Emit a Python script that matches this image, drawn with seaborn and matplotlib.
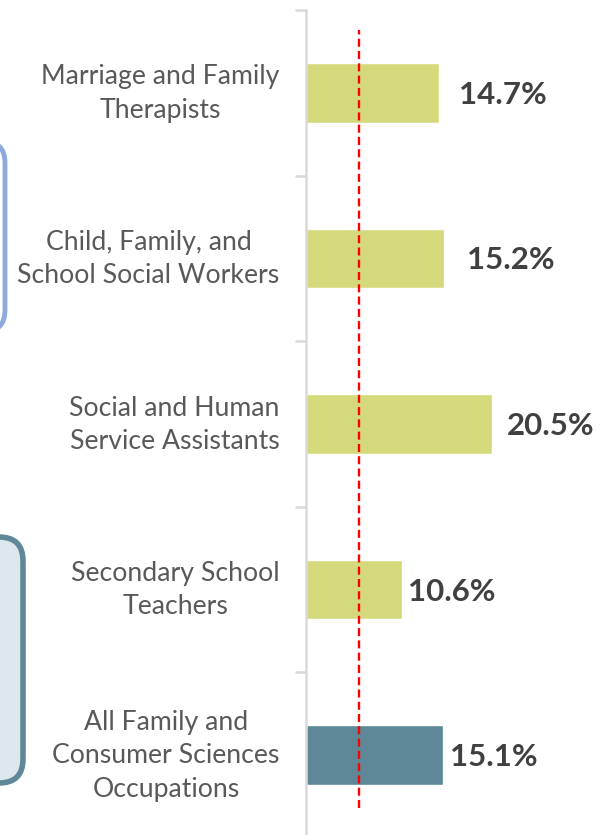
import matplotlib
matplotlib.use('Agg')
import matplotlib.pyplot as plt
import matplotlib.transforms as mtransforms
from matplotlib.patches import FancyBboxPatch
import seaborn as sns
import pandas as pd

# data
categories = ["Marriage and Family\nTherapists",
              "Child, Family, and\nSchool Social Workers",
              "Social and Human\nService Assistants",
              "Secondary School\nTeachers",
              "All Family and\nConsumer Sciences\nOccupations"]
values = [14.7, 15.2, 20.5, 10.6, 15.1]
value_labels = ["14.7%", "15.2%", "20.5%", "10.6%", "15.1%"]
reference_value = 5.8  # red dashed line

bar_colors = ["#d4da7c", "#d4da7c", "#d4da7c", "#d4da7c", "#5e8798"]
label_gap_px = [20, 23, 15, 6, 7]

df = pd.DataFrame({"category": categories, "value": values})

sns.set_style("white")
plt.rcParams['font.family'] = ['Lato', 'DejaVu Sans']

fig = plt.figure(figsize=(6.12, 8.35), dpi=100)

# background layer for the cropped boxes on the left edge
bg = fig.add_axes([0, 0, 1, 1], zorder=0)
bg.set_xlim(0, 612)
bg.set_ylim(835, 0)
bg.axis('off')
bg.add_patch(FancyBboxPatch((-60, 141), 65, 191, boxstyle="round,pad=0,rounding_size=22",
                            facecolor="white", edgecolor="#8eaadc", linewidth=3.5))
bg.add_patch(FancyBboxPatch((-60, 537), 83, 246, boxstyle="round,pad=0,rounding_size=24",
                            facecolor="#dde8ee", edgecolor="#5e8798", linewidth=4))

# main axes: x=306px is zero, about 9.06 px per percent
ax = fig.add_axes([306 / 612, (835 - 838) / 835, 306 / 612, 828 / 835], zorder=1)
ax.patch.set_alpha(0)
sns.barplot(data=df, x="value", y="category", hue="category", palette=bar_colors,
            legend=False, width=0.36, orient="h", ax=ax, saturation=1)
ax.set_xlim(0, 306 / 9.06)
ax.set_ylim(4.5, -0.5)
ax.set_xlabel("")
ax.set_ylabel("")
ax.set_xticks([])

for s in ["top", "right", "bottom"]:
    ax.spines[s].set_visible(False)
ax.spines["left"].set_color("#d9d9d9")
ax.spines["left"].set_linewidth(1.8)

ax.set_yticks(range(len(categories)))
ax.set_yticklabels(categories, fontsize=19.2, color="#595959", ha="right",
                   multialignment="center", linespacing=1.42)
ax.tick_params(axis="y", which="major", length=0, pad=19)
ax.set_yticks([i - 0.5 for i in range(len(categories) + 1)], minor=True)
ax.tick_params(axis="y", which="minor", length=8, width=1.8, color="#d9d9d9", left=True)

# nudge category labels up a little
shift = mtransforms.ScaledTranslation(0, 6 / 100, fig.dpi_scale_trans)
for lbl in ax.get_yticklabels():
    lbl.set_transform(lbl.get_transform() + shift)

# reference line
ax.axvline(reference_value, ymin=1 - 798 / 828, ymax=1 - 20 / 828,
           color="red", linestyle=(0, (3.4, 1.8)), linewidth=1.7, zorder=3)

# value labels
for i, (v, lab) in enumerate(zip(values, value_labels)):
    ax.annotate(lab, xy=(v, i), xytext=(label_gap_px[i] * 0.72, -1.5), textcoords="offset points",
                ha="left", va="center", fontsize=22.5, fontweight="bold", color="#404040")

fig.savefig("out.png", dpi=100)
